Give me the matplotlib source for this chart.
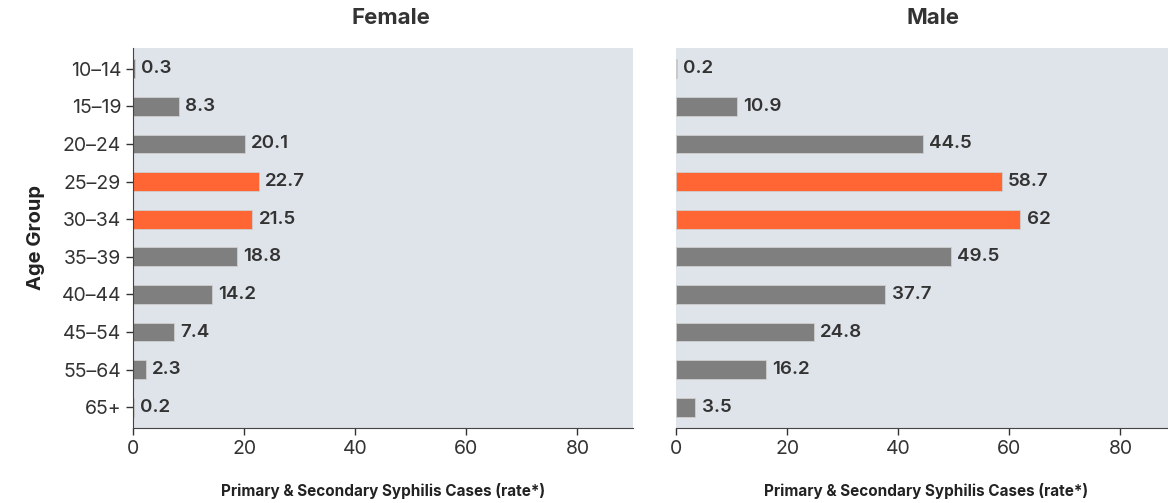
import matplotlib.pyplot as plt
import numpy as np

plt.rcParams['font.family'] = ['Inter', 'DejaVu Sans']

age_groups = ['10–14', '15–19', '20–24', '25–29', '30–34', '35–39', '40–44', '45–54', '55–64', '65+']
female = [0.3, 8.3, 20.1, 22.7, 21.5, 18.8, 14.2, 7.4, 2.3, 0.2]
male = [0.2, 10.9, 44.5, 58.7, 62, 49.5, 37.7, 24.8, 16.2, 3.5]
highlight = ['25–29', '30–34']

bg = '#dfe3ea'
gray = '#7f7f7f'
orange = '#ff6633'
txt = '#333333'

fig = plt.figure(figsize=(11.68, 5.03), dpi=100)
W, H = 1168, 503
ax1 = fig.add_axes([133 / W, 1 - 428 / H, 500 / W, 380 / H])
ax2 = fig.add_axes([676 / W, 1 - 428 / H, 500 / W, 380 / H])

y = np.arange(len(age_groups))
colors = [orange if a in highlight else gray for a in age_groups]

for ax, vals, title in [(ax1, female, 'Female'), (ax2, male, 'Male')]:
    ax.set_facecolor(bg)
    ax.barh(y, vals, height=0.5, color=colors, edgecolor='#cfcfcf', linewidth=0.6)
    for yi, v in zip(y, vals):
        ax.text(v + 1.1, yi, f'{v:g}', va='center', ha='left', fontsize=13.5,
                fontweight='semibold', color=txt)
    ax.set_xlim(0, 90)
    ax.set_ylim(9.55, -0.55)
    ax.set_xticks([0, 20, 40, 60, 80])
    ax.tick_params(axis='x', labelsize=14, colors=txt, length=5, width=1)
    ax.set_title(title, fontsize=16, fontweight='bold', color=txt, pad=17, x=0.515)
    ax.set_xlabel('Primary & Secondary Syphilis Cases (rate*)', fontsize=11,
                  fontweight='bold', color='#222222', labelpad=18)
    for s in ['top', 'right']:
        ax.spines[s].set_visible(False)
    ax.spines['bottom'].set_color('#444444')
    ax.spines['left'].set_color('#444444')

ax1.set_yticks(y)
ax1.set_yticklabels(age_groups)
ax1.tick_params(axis='y', labelsize=14, colors=txt, length=5, width=1)
ax1.set_ylabel('Age Group', fontsize=14.5, fontweight='bold', color='#222222', labelpad=12)

ax2.set_yticks([])
ax2.spines['left'].set_visible(False)

fig.savefig('out.png', dpi=100)
